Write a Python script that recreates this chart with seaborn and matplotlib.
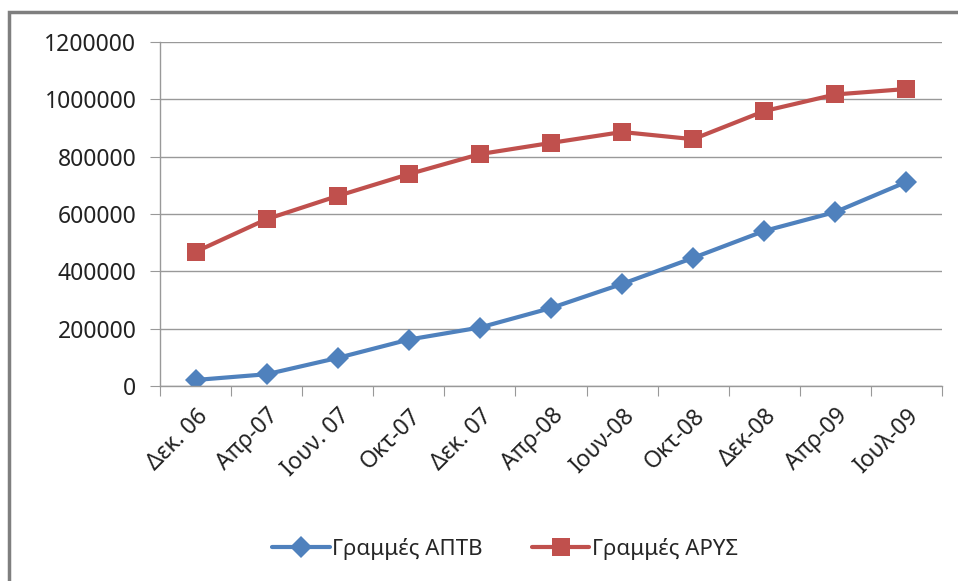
import numpy as np
import pandas as pd
import matplotlib
matplotlib.use('Agg')
import matplotlib.pyplot as plt
import seaborn as sns
from matplotlib.patches import Rectangle

# data
months = ['Δεκ. 06', 'Απρ-07', 'Ιουν. 07', 'Οκτ-07', 'Δεκ. 07', 'Απρ-08',
          'Ιουν-08', 'Οκτ-08', 'Δεκ-08', 'Απρ-09', 'Ιουλ-09']
aptb = [21000, 41000, 98000, 162000, 204000, 272000, 356000, 447000, 541000, 607000, 712000]
arys = [468000, 582000, 663000, 739000, 809000, 848000, 886000, 861000, 959000, 1017000, 1036000]
series_names = ['Γραμμές ΑΠΤΒ', 'Γραμμές ΑΡΥΣ']
colors = ['#4F81BD', '#C0504D']
yticks = [0, 200000, 400000, 600000, 800000, 1000000, 1200000]

def main():
    sns.set_style('white')
    plt.rcParams['font.family'] = ['Noto Sans', 'DejaVu Sans']

    df = pd.concat([
        pd.DataFrame({'month': months, 'value': aptb, 'series': series_names[0]}),
        pd.DataFrame({'month': months, 'value': arys, 'series': series_names[1]}),
    ])
    df['pos'] = df['month'].map({m: i for i, m in enumerate(months)})

    fig = plt.figure(figsize=(9.58, 5.81), dpi=100)
    ax = fig.add_axes([160/958, (581-386)/581, (942-160)/958, (386-42)/581])

    sns.lineplot(data=df, x='pos', y='value', hue='series', style='series',
                 palette=colors, markers=['D', 's'], dashes=False,
                 linewidth=3, markersize=11, markeredgewidth=0, ax=ax)
    # squares a bit bigger than diamonds, like the original
    for line in ax.lines:
        if line.get_marker() == 's':
            line.set_markersize(13)
        elif line.get_marker() == 'D':
            line.set_markersize(11)

    ax.set_xlim(-0.5, len(months) - 0.5)
    ax.set_ylim(0, 1200000)
    ax.set_yticks(yticks)
    ax.set_yticklabels([str(v) for v in yticks], fontsize=16.5, color='#222222')
    ax.yaxis.grid(True, color='#999999', linewidth=1)
    ax.set_axisbelow(True)

    ax.set_xticks(np.arange(-0.5, len(months), 1.0))
    ax.set_xticklabels([])
    ax.set_xticks(np.arange(len(months)), minor=True)
    ax.set_xticklabels(months, minor=True, rotation=45, ha='right',
                       rotation_mode='anchor', fontsize=16.5, color='#222222')
    ax.tick_params(axis='x', which='major', direction='out', length=7,
                   color='#999999', bottom=True)
    ax.tick_params(axis='x', which='minor', length=0, pad=13)
    ax.tick_params(axis='y', direction='out', length=7, color='#999999',
                   left=True, pad=10)

    for side in ['top', 'right']:
        ax.spines[side].set_visible(False)
    for side in ['left', 'bottom']:
        ax.spines[side].set_color('#999999')
        ax.spines[side].set_linewidth(1)

    ax.set_xlabel('')
    ax.set_ylabel('')

    handles, labels = ax.get_legend_handles_labels()
    ax.legend(handles, labels, loc='center', bbox_to_anchor=(505/958, (581-549)/581),
              bbox_transform=fig.transFigure, ncol=2, frameon=False,
              fontsize=16, handlelength=2.6, columnspacing=2.2, handletextpad=0.1)

    # chart area border (gray), runs off the right and bottom edges
    fig.patches.append(Rectangle((9/958, -0.05), 1.0, (581-12)/581 + 0.05,
                                 transform=fig.transFigure, fill=False,
                                 edgecolor='#7f7f7f', linewidth=2.5))

    fig.savefig('out.png', dpi=100)
    plt.close()

if __name__ == '__main__':
    main()
